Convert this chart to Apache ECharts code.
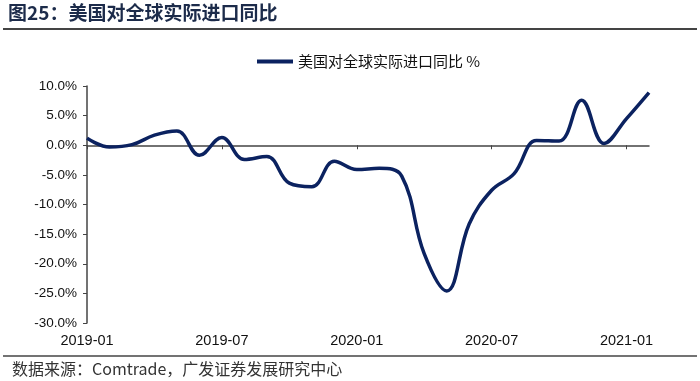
<!DOCTYPE html>
<html><head><meta charset="utf-8">
<script src="https://cdn.jsdelivr.net/npm/echarts@6/dist/echarts.min.js"></script>
<style>html,body{margin:0;padding:0;background:#fff}#c{width:700px;height:381px}</style>
</head><body><div id="c"></div>
<script>
const months = ['2019-01','2019-02','2019-03','2019-04','2019-05','2019-06','2019-07','2019-08','2019-09','2019-10','2019-11','2019-12',
'2020-01','2020-02','2020-03','2020-04','2020-05','2020-06','2020-07','2020-08','2020-09','2020-10','2020-11','2020-12','2021-01','2021-02'];
const importYoY = [1.2,-0.3,0.1,1.7,2.4,-1.7,1.3,-2.4,-1.9,-6.4,-7.0,-2.7,-4.1,-3.9,-5.2,-18.3,-24.6,-13.3,-7.6,-4.8,0.8,0.7,7.6,0.3,4.5,8.9];
const seriesName = '美国对全球实际进口同比 %';
const yMin = -30, yMax = 10, yStep = 5;

const chart = echarts.init(document.getElementById('c'), null, {renderer:'canvas'});
const cjk = '"Noto Sans CJK SC", "Liberation Sans", sans-serif';
const lat = '"Liberation Sans", Arial, sans-serif';
chart.setOption({
  animation:false,
  backgroundColor:'#fff',
  graphic:[
    {type:'text', left:8, top:3, style:{text:'图25：美国对全球实际进口同比', font:'bold 19px '+cjk, fill:'#1c2b4a'}},
    {type:'line', shape:{x1:3,y1:29,x2:697,y2:29}, style:{stroke:'#444', lineWidth:2}},
    {type:'line', shape:{x1:3,y1:356,x2:697,y2:356}, style:{stroke:'#444', lineWidth:1.5}},
    {type:'text', left:12, top:361, style:{text:'数据来源：Comtrade，广发证券发展研究中心', font:'16px '+cjk, fill:'#333'}}
  ],
  legend:{top:49, left:252, itemWidth:36, itemHeight:4, itemGap:6, icon:'rect',
    textStyle:{fontFamily:cjk, fontSize:15, color:'#111'}, data:[seriesName]},
  grid:{left:87, right:51, top:86, bottom:58},
  xAxis:[
    {type:'category', data:months, boundaryGap:false,
      axisLine:{onZero:true, lineStyle:{color:'#444', width:1.5}},
      axisTick:{show:true, interval:5, length:4, inside:false, lineStyle:{color:'#444'}},
      axisLabel:{show:false}, splitLine:{show:false}},
    {type:'category', data:months, boundaryGap:false, position:'bottom',
      axisLine:{show:false, onZero:false}, axisTick:{show:false},
      axisLabel:{show:true, interval:5, margin:10, fontFamily:lat, fontSize:14.5, color:'#111'}}
  ],
  yAxis:{type:'value', min:yMin, max:yMax, interval:yStep,
    axisLine:{show:true, lineStyle:{color:'#444', width:1.5}},
    axisTick:{show:true, length:4, lineStyle:{color:'#444'}},
    splitLine:{show:false},
    axisLabel:{formatter:v=>v.toFixed(1)+'%', fontFamily:lat, fontSize:13.5, color:'#111', margin:10}},
  series:[{name:seriesName, type:'line', xAxisIndex:0, data:importYoY, smooth:0.4, smoothMonotone:'none', symbol:'none',
    lineStyle:{color:'#0b2260', width:3.5}, itemStyle:{color:'#0b2260'}}]
});
</script></body></html>
